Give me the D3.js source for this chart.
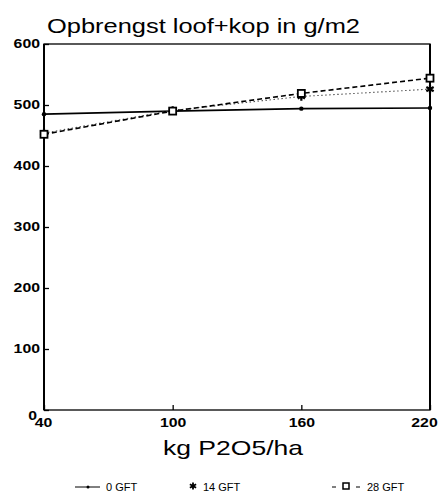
<!DOCTYPE html>
<html><head><meta charset="utf-8">
<script src="https://cdn.jsdelivr.net/npm/d3@7"></script>
<style>body{margin:0;background:#fff}svg{display:block}text{font-family:"Liberation Sans",Arial,sans-serif;fill:#000}</style>
</head><body><svg id="c" width="444" height="499"></svg>
<script>
const xValues = [40, 100, 160, 220];
const gft0 = [485, 490, 494, 495];
const gft14 = [454, 491, 514, 526];
const gft28 = [452, 490, 519, 544];
const xTicks = [40, 100, 160, 220];
const yTicks = [0, 100, 200, 300, 400, 500, 600];
const seriesNames = ["0 GFT", "14 GFT", "28 GFT"];
const title = "Opbrengst loof+kop in g/m2";
const xLabel = "kg P2O5/ha";

const svg = d3.select("#c");
const L = 44, R = 430, T = 44, B = 410;
const x = d3.scaleLinear().domain([40, 220]).range([L, R]);
const y = d3.scaleLinear().domain([0, 600]).range([B, T]);

// frame
svg.append("rect").attr("x", L).attr("y", T).attr("width", R - L).attr("height", B - T)
  .attr("fill", "none").attr("stroke", "#000").attr("stroke-width", 1.3);
svg.append("line").attr("x1", L).attr("x2", L).attr("y1", T).attr("y2", B).attr("stroke", "#000").attr("stroke-width", 2);
svg.append("line").attr("x1", R).attr("x2", R).attr("y1", T).attr("y2", B).attr("stroke", "#000").attr("stroke-width", 2);

const digitW = 8.8;
// y axis
const ya = svg.append("g").attr("transform", `translate(${L},0)`)
  .call(d3.axisLeft(y).tickValues(yTicks).tickSize(-5).tickPadding(5).tickFormat(d3.format("d")));
ya.select(".domain").remove();
ya.selectAll("line").attr("stroke", "#000").attr("stroke-width", 1.3);
ya.selectAll("text").style("font-size", "12px").style("font-weight", "bold").attr("x", -4)
  .attr("textLength", d => String(d).length * digitW).attr("lengthAdjust", "spacingAndGlyphs");
ya.selectAll(".tick").filter(d => d === 0).select("text").attr("dy", "0.75em").attr("x", -7);

// x axis
const xa = svg.append("g").attr("transform", `translate(0,${B})`)
  .call(d3.axisBottom(x).tickValues(xTicks).tickSize(-5).tickPadding(8).tickFormat(d3.format("d")));
xa.select(".domain").remove();
xa.selectAll("line").attr("stroke", "#000").attr("stroke-width", 1.3);
xa.selectAll("text").style("font-size", "12px").style("font-weight", "bold")
  .attr("textLength", d => String(d).length * digitW).attr("lengthAdjust", "spacingAndGlyphs");
xa.selectAll(".tick").filter(d => d === 220).select("text").attr("dx", "-6");
xa.selectAll(".tick").filter(d => d === 40).select("text").attr("dx", "-1");

// title and label
svg.append("text").attr("x", 47).attr("y", 33).style("font-size", "21px")
  .attr("textLength", 313).attr("lengthAdjust", "spacingAndGlyphs").text(title);
svg.append("text").attr("x", 163).attr("y", 455).style("font-size", "21px")
  .attr("textLength", 140).attr("lengthAdjust", "spacingAndGlyphs").text(xLabel);

const line = d3.line().x((d, i) => x(xValues[i])).y(d => y(d));

// 0 GFT
svg.append("path").datum(gft0).attr("d", line).attr("fill", "none").attr("stroke", "#000").attr("stroke-width", 1.6);
svg.selectAll(".m0").data(gft0).join("circle").attr("cx", (d, i) => x(xValues[i])).attr("cy", d => y(d)).attr("r", 2.2).attr("fill", "#000");

// 14 GFT
svg.append("path").datum(gft14).attr("d", line).attr("fill", "none").attr("stroke", "#555").attr("stroke-width", 1.1).attr("stroke-dasharray", "1.5,2.5");
const star = d3.symbol().type(d3.symbolAsterisk).size(50);
svg.selectAll(".m14").data(gft14).join("path").attr("d", star)
  .attr("transform", (d, i) => `translate(${x(xValues[i])},${y(d)})`).attr("stroke", "#000").attr("stroke-width", 2.2).attr("fill", "none");

// 28 GFT
svg.append("path").datum(gft28).attr("d", line).attr("fill", "none").attr("stroke", "#000").attr("stroke-width", 1.6).attr("stroke-dasharray", "5,3");
svg.selectAll(".m28").data(gft28).join("rect").attr("x", (d, i) => x(xValues[i]) - 3.5).attr("y", d => y(d) - 3.5)
  .attr("width", 7).attr("height", 7).attr("fill", "#fff").attr("stroke", "#000").attr("stroke-width", 1.8);

// legend
const ly = 487;
const lg = svg.append("g");
lg.append("line").attr("x1", 75).attr("x2", 100).attr("y1", ly).attr("y2", ly).attr("stroke", "#000").attr("stroke-width", 1);
lg.append("circle").attr("cx", 88).attr("cy", ly).attr("r", 1.5).attr("fill", "#000");
lg.append("text").attr("x", 106).attr("y", ly + 4).style("font-size", "11px").text(seriesNames[0]);
lg.append("path").attr("d", d3.symbol().type(d3.symbolAsterisk).size(36)).attr("transform", `translate(193,${ly - 1})`).attr("stroke", "#000").attr("stroke-width", 1.8);
lg.append("text").attr("x", 203).attr("y", ly + 4).style("font-size", "11px").text(seriesNames[1]);
lg.append("line").attr("x1", 332).attr("x2", 336).attr("y1", ly).attr("y2", ly).attr("stroke", "#000").attr("stroke-width", 1);
lg.append("line").attr("x1", 356).attr("x2", 360).attr("y1", ly).attr("y2", ly).attr("stroke", "#000").attr("stroke-width", 1);
lg.append("rect").attr("x", 343).attr("y", ly - 4).attr("width", 6).attr("height", 6).attr("fill", "#fff").attr("stroke", "#000").attr("stroke-width", 1.5);
lg.append("text").attr("x", 367).attr("y", ly + 4).style("font-size", "11px").text(seriesNames[2]);
</script></body></html>
